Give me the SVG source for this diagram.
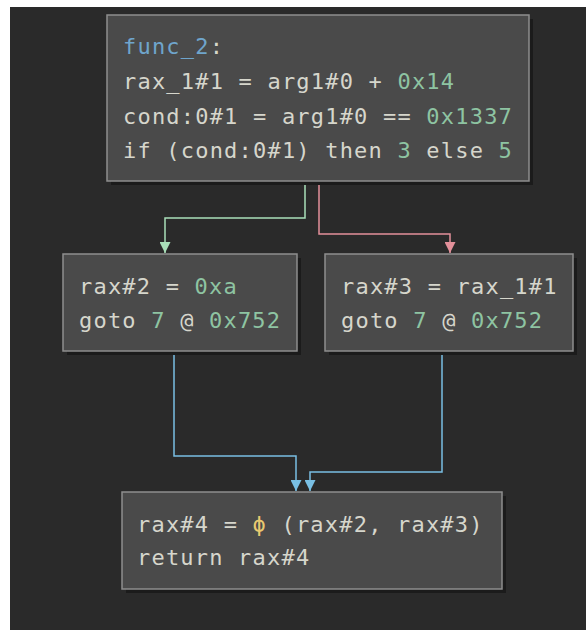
<svg xmlns="http://www.w3.org/2000/svg" width="586" height="630" viewBox="0 0 586 630">
  <style>
    .bg { fill: #2a2a2a; }
    .box { fill: #4a4a4a; stroke: #8e8e8e; stroke-width: 1.5; }
    .shadow { fill: #1b1b1b; }
    text { font-family: "DejaVu Sans Mono", "Liberation Mono", monospace; font-size: 22px; letter-spacing: 1.2px; fill: #d6d6cc; }
    .fn { fill: #6fa5cc; }
    .num { fill: #8ec4a2; }
    .phi { fill: #e8c970; }
    .edge { fill: none; stroke-width: 1.5; }
    .g { stroke: #a9dfb9; }
    .r { stroke: #e3909a; }
    .b { stroke: #79bfe3; }
  </style>
  <defs>
    <marker id="ag" markerUnits="userSpaceOnUse" markerWidth="11" markerHeight="11" refX="10" refY="5" orient="auto" viewBox="0 0 10 10">
      <path d="M0,0 L10,5 L0,10 z" fill="#a9dfb9"/>
    </marker>
    <marker id="ar" markerUnits="userSpaceOnUse" markerWidth="11" markerHeight="11" refX="10" refY="5" orient="auto" viewBox="0 0 10 10">
      <path d="M0,0 L10,5 L0,10 z" fill="#e3909a"/>
    </marker>
    <marker id="ab" markerUnits="userSpaceOnUse" markerWidth="11" markerHeight="11" refX="10" refY="5" orient="auto" viewBox="0 0 10 10">
      <path d="M0,0 L10,5 L0,10 z" fill="#79bfe3"/>
    </marker>
  </defs>

  <rect x="0" y="0" width="586" height="630" fill="#ffffff"/>
  <rect class="bg" x="10" y="7" width="576" height="623"/>

  <g id="connectors">
    <polyline class="edge g" points="305,181 305,218 165,218 165,253" marker-end="url(#ag)"/>
    <polyline class="edge r" points="319,181 319,234 450,234 450,253" marker-end="url(#ar)"/>
    <polyline class="edge b" points="174,351 174,456 296,456 296,491" marker-end="url(#ab)"/>
    <polyline class="edge b" points="442,351 442,472 310,472 310,491" marker-end="url(#ab)"/>
  </g>

  <g id="node-func2">
    <rect class="shadow" x="111" y="19" width="422" height="166"/>
    <rect class="box" x="107" y="15" width="422" height="166"/>
    <text x="123" y="54"><tspan class="fn">func_2</tspan>:</text>
    <text x="123" y="89">rax_1#1 = arg1#0 + <tspan class="num">0x14</tspan></text>
    <text x="123" y="123.5">cond:0#1 = arg1#0 == <tspan class="num">0x1337</tspan></text>
    <text x="123" y="158">if (cond:0#1) then <tspan class="num">3</tspan> else <tspan class="num">5</tspan></text>
  </g>

  <g id="node-3">
    <rect class="shadow" x="67" y="258" width="234" height="97"/>
    <rect class="box" x="63" y="254" width="234" height="97"/>
    <text x="79" y="294">rax#2 = <tspan class="num">0xa</tspan></text>
    <text x="79" y="328">goto <tspan class="num">7</tspan> @ <tspan class="num">0x752</tspan></text>
  </g>

  <g id="node-5">
    <rect class="shadow" x="329" y="258" width="248" height="97"/>
    <rect class="box" x="325" y="254" width="248" height="97"/>
    <text x="341" y="294">rax#3 = rax_1#1</text>
    <text x="341" y="328">goto <tspan class="num">7</tspan> @ <tspan class="num">0x752</tspan></text>
  </g>

  <g id="node-7">
    <rect class="shadow" x="126" y="496" width="380" height="97"/>
    <rect class="box" x="122" y="492" width="380" height="97"/>
    <text x="137" y="532">rax#4 = <tspan class="phi">ϕ</tspan> (rax#2, rax#3)</text>
    <text x="137" y="565">return rax#4</text>
  </g>
</svg>
